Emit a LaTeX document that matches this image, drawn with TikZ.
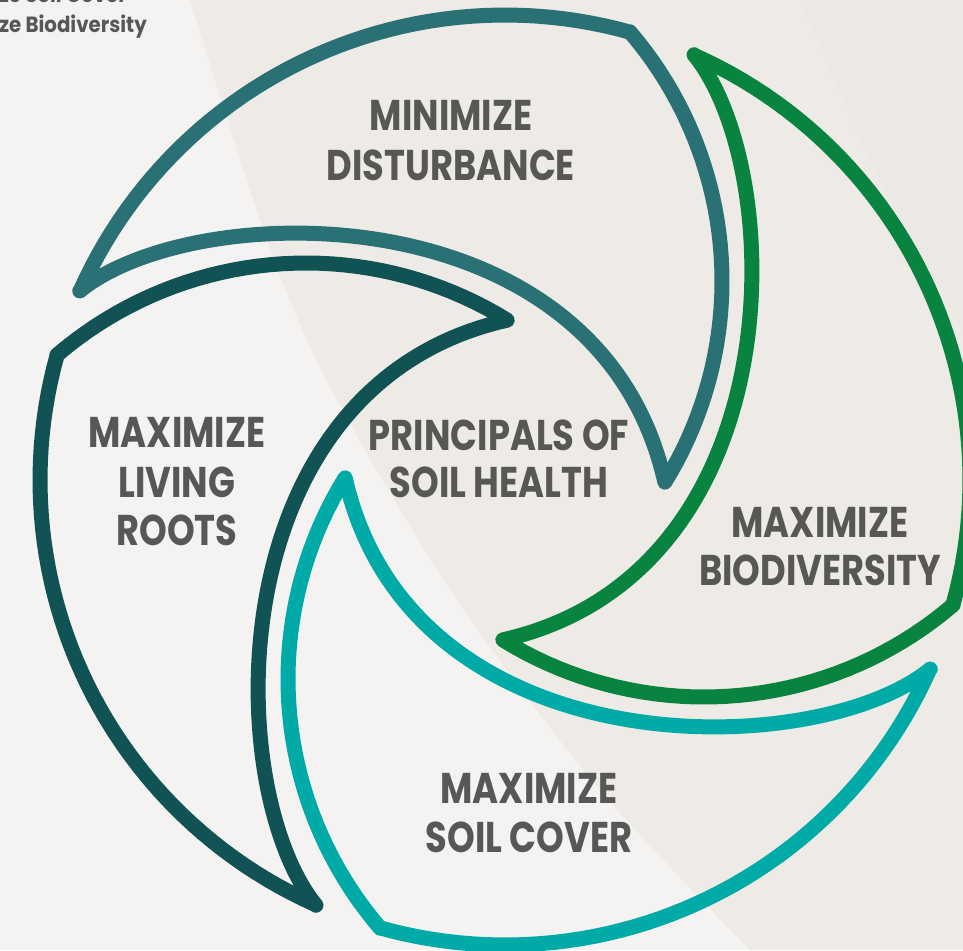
\documentclass[tikz,border=0pt]{standalone}
\usepackage{fontspec}
\newfontfamily\lblfont{Poppins}[FakeStretch=0.82]
\newfontfamily\smallfont{Poppins}[FakeStretch=0.9]
\definecolor{bglight}{HTML}{F4F3F1}
\definecolor{bgbeige}{HTML}{EEEBE6}
\definecolor{bgbeige2}{HTML}{ECE9E4}
\definecolor{slate}{HTML}{2A7175}
\definecolor{leafgreen}{HTML}{098440}
\definecolor{aqua}{HTML}{00AAA7}
\definecolor{deepteal}{HTML}{115255}
\definecolor{txtgrey}{HTML}{575756}
% one blade, relative to the centre of the wheel (image orientation, y down)
\newcommand\bladeshape{plot[domain=204:285.6,samples=50] ({465*cos(\x)},{465*sin(\x)})
 -- plot[domain=-40.6:31.7,samples=40] ({-166+383*cos(\x)},{-199+383*sin(\x)})
 .. controls (94,-290) and (-310,-283) .. (-425.2,-189.1) -- cycle}
\begin{document}
\begin{tikzpicture}[x=1pt,y=-1pt,
  blade/.style={line width=15pt,line join=round,line cap=round},
  lbl/.style={anchor=base,inner sep=0pt,text=txtgrey,font=\lblfont\bfseries\fontsize{43}{50}\selectfont},
  side/.style={anchor=base east,inner sep=0pt,text=txtgrey,font=\smallfont\bfseries\fontsize{22}{26}\selectfont}]
\useasboundingbox (0,0) rectangle (963,950);
\clip (0,0) rectangle (963,950);
\fill[bglight] (0,0) rectangle (963,950);
\fill[bgbeige] plot[smooth] coordinates {(190,0) (267,240) (330,387) (457,600) (600,790) (750,950)} -- (963,950) -- (963,0) -- cycle;
\fill[bgbeige2] plot[smooth] coordinates {(800,0) (880,180) (963,330)} -- (963,0) -- cycle;
% side list
\node[side] (s1) at (127,3) {Maximize Soil Cover};
\node[side] (s2) at (147,33) {Maximize Biodiversity};
% blades
\begin{scope}[shift={(505,480)}]
\draw[blade,slate] \bladeshape;
\end{scope}
\begin{scope}[shift={(505,480)},rotate=-90]
\draw[blade,leafgreen] \bladeshape;
\end{scope}
\begin{scope}[shift={(505,480)},rotate=-180]
\draw[blade,aqua] \bladeshape;
\end{scope}
\begin{scope}[shift={(505,480)},rotate=-270]
\draw[blade,deepteal] \bladeshape;
\end{scope}
% labels
\node[lbl] (md1) at (451,130) {MINIMIZE};
\node[lbl] (md2) at (451,180) {DISTURBANCE};
\node[lbl] (ps1) at (499,450) {PRINCIPALS OF};
\node[lbl] (ps2) at (499,497) {SOIL HEALTH};
\node[lbl] (lr1) at (177,447) {MAXIMIZE};
\node[lbl] (lr2) at (177,497) {LIVING};
\node[lbl] (lr3) at (177,545) {ROOTS};
\node[lbl] (bd1) at (820,537) {MAXIMIZE};
\node[lbl] (bd2) at (820,585) {BIODIVERSITY};
\node[lbl] (sc1) at (529,803) {MAXIMIZE};
\node[lbl] (sc2) at (529,852) {SOIL COVER};
\end{tikzpicture}
\end{document}
